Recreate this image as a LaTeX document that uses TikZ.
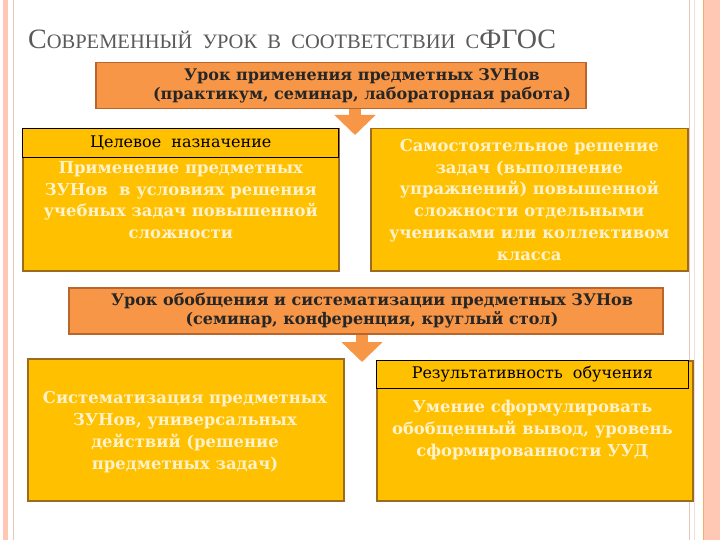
\documentclass[tikz,border=0pt]{standalone}
\usepackage{fontspec}
\setmainfont{DejaVu Serif}
\newfontfamily\titlefont{Liberation Serif}
\usetikzlibrary{arrows.meta,positioning}

\definecolor{lessonorange}{HTML}{F79646}
\definecolor{lessonedge}{HTML}{B8652E}
\definecolor{goalgold}{HTML}{FFC000}
\definecolor{goldedge}{HTML}{9C6B1F}
\definecolor{creamtext}{HTML}{FFF2CC}
\definecolor{titlegray}{HTML}{5A5A5A}
\definecolor{stripepink}{HTML}{FFC8B4}
\definecolor{stripeline}{HTML}{E8C8BC}

\begin{document}
\begin{tikzpicture}[
    x=1pt,y=-1pt,
    >=latex,
    lessonbox/.style={rectangle,draw=lessonedge,line width=1.5pt,fill=lessonorange,
        anchor=north west},
    goldbox/.style={rectangle,draw=goldedge,line width=1.5pt,fill=goalgold,
        anchor=north west},
    headbox/.style={rectangle,draw=black,line width=0.8pt,fill=goalgold,anchor=north,
        font=\fontsize{16}{18}\selectfont,text=black},
    lessontext/.style={align=center,font=\fontsize{16}{19}\selectfont\bfseries,
        text=black!85},
    bodytext/.style={align=center,font=\fontsize{16.4}{21.8}\selectfont\bfseries,
        text=creamtext},
    blockarrow/.style={lessonorange,line width=12pt,
        -{Triangle[width=40pt,length=20pt]}}
  ]

    % background and side stripes
    \useasboundingbox (0,0) rectangle (720,540);
    \fill[white] (0,0) rectangle (720,540);
    \fill[stripepink] (3,0) rectangle (8,540);
    \draw[stripeline,line width=1pt] (13,0) -- (13,540);
    \draw[stripeline,line width=1pt] (689,0) -- (689,540);
    \draw[stripeline!60,line width=1pt] (694,0) -- (694,540);
    \fill[stripepink] (703,0) rectangle (720,540);
    \draw[lessonorange!80,line width=1pt] (703,0) -- (703,540);

    % title
    \node[anchor=base west,text=titlegray,inner sep=0pt] (title) at (28,49)
        {\titlefont\fontsize{28}{30}\selectfont С\fontsize{20.5}{30}\selectfont ОВРЕМЕННЫЙ\ \ УРОК\ \ В\ \ СООТВЕТСТВИИ\ \ С\fontsize{28}{30}\selectfont ФГОС};

    % first lesson
    \node[lessonbox,minimum width=490pt,minimum height=46pt] (lesson1) at (95,62) {};
    \node[lessontext] (lesson1text) at (362,86)
        {Урок применения предметных ЗУНов\\(практикум, семинар, лабораторная работа)};

    \node[goldbox,minimum width=316pt,minimum height=142pt] (goal) at (22,128) {};
    \node[headbox,minimum width=316pt,minimum height=29pt] (goalhead) at (goal.north)
        {Целевое\ \ назначение};
    \node[bodytext,below=0pt of goalhead] (goaltext)
        {Применение предметных\\ЗУНов\ \ в условиях решения\\учебных задач повышенной\\сложности};

    \node[goldbox,minimum width=317pt,minimum height=142pt] (task) at (370,128) {};
    \node[bodytext] (tasktext) at (task.center)
        {Самостоятельное решение\\задач (выполнение\\упражнений) повышенной\\сложности отдельными\\учениками или коллективом\\класса};

    \coordinate (tip1) at (355,135);
    \draw[blockarrow] (lesson1.south -| tip1) -- (tip1);

    % second lesson
    \node[lessonbox,minimum width=594pt,minimum height=46pt] (lesson2) at (68,287) {};
    \node[lessontext] (lesson2text) at (372,311)
        {Урок обобщения и систематизации предметных ЗУНов\\(семинар, конференция, круглый стол)};

    \node[goldbox,minimum width=316pt,minimum height=142pt] (system) at (27,358) {};
    \node[bodytext] (systemtext) at (185,432)
        {Систематизация предметных\\ЗУНов, универсальных\\действий (решение\\предметных задач)};

    \node[goldbox,minimum width=316pt,minimum height=140pt] (result) at (376,360) {};
    \node[headbox,minimum width=312pt,minimum height=28pt,anchor=north west] (resulthead)
        at (result.north west) {Результативность\ \ обучения};
    \node[bodytext,below=8pt of resulthead] (resulttext)
        {Умение сформулировать\\обобщенный вывод, уровень\\сформированности УУД};

    \coordinate (tip2) at (362,362);
    \draw[blockarrow] (lesson2.south -| tip2) -- (tip2);
\end{tikzpicture}
\end{document}
